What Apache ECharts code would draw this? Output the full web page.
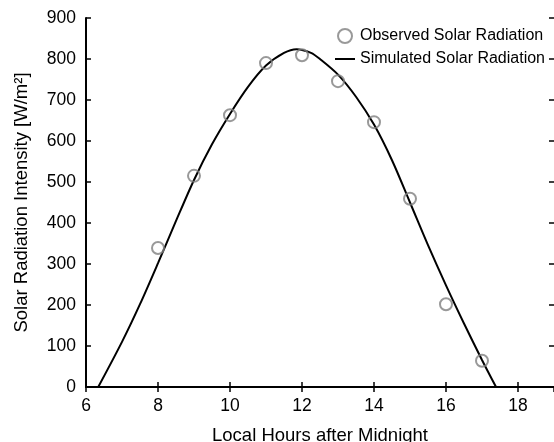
<!DOCTYPE html>
<html>
<head>
<meta charset="utf-8">
<script src="https://cdn.jsdelivr.net/npm/echarts@6/dist/echarts.min.js"></script>
<style>
  html, body { margin: 0; padding: 0; background: #fff; }
  #solarChart { width: 554px; height: 442px; }
</style>
</head>
<body>
<div id="solarChart"></div>
<script>
// observed values, one per hour
let obsHours = [8, 9, 10, 11, 12, 13, 14, 15, 16, 17]
let observed = [339, 515, 663, 790, 809, 746, 646, 459, 202, 64]

// simulated curve
let simHours = [6.34, 7, 7.5, 8, 8.5, 9, 9.5, 10, 10.5, 11, 11.5, 11.85, 12.25, 12.5, 13, 13.5, 14, 14.5, 15, 15.5, 16, 16.5, 17, 17.39]
let simulated = [0, 110, 202, 302, 405, 505, 592, 666, 732, 784, 815, 824, 815, 800, 762, 708, 640, 553, 450, 346, 248, 155, 66, 0]

let xTicks = [6, 8, 10, 12, 14, 16, 18]

let font = 'Liberation Sans, Arial, sans-serif'

let obsData = obsHours.map((h, i) => [h, observed[i]])
let simData = simHours.map((h, i) => [h, simulated[i]])

let myChart = echarts.init(document.getElementById('solarChart'))

let frameAxis = {
    axisLine: { show: true, lineStyle: { color: '#000', width: 2 } },
    axisTick: { show: true, inside: true, length: 5, lineStyle: { color: '#000', width: 1.5 } },
    splitLine: { show: false }
}

myChart.setOption({
    animation: false,
    // keep the plot box fixed, names may sit near the edge
    grid: { left: 86, right: 0, top: 18, bottom: 55, outerBoundsMode: 'none' },
    legend: {
        orient: 'vertical',
        right: 4,
        top: 23,
        itemWidth: 20,
        itemHeight: 14,
        itemGap: 7,
        textStyle: { fontFamily: font, fontSize: 16, color: '#000' },
        data: [
            'Observed Solar Radiation',
            // plain line, no marker in the key
            { name: 'Simulated Solar Radiation', icon: 'path://M0,0h20v2h-20z' }
        ]
    },
    xAxis: [
        Object.assign({
            type: 'value',
            min: 6,
            max: 19,
            interval: 2,
            name: 'Local Hours after Midnight',
            nameLocation: 'middle',
            nameGap: 39,
            nameTextStyle: { fontFamily: font, fontSize: 18.5, color: '#000' },
            axisLabel: {
                fontFamily: font, fontSize: 17.5, color: '#000', margin: 10,
                showMaxLabel: false,
                formatter: v => xTicks.indexOf(v) >= 0 ? String(v) : ''
            }
        }, frameAxis),
        Object.assign({
            type: 'value', position: 'top', min: 6, max: 19, interval: 2,
            axisLabel: { show: false }
        }, frameAxis)
    ],
    yAxis: [
        Object.assign({
            type: 'value',
            min: 0,
            max: 900,
            interval: 100,
            name: 'Solar Radiation Intensity [W/m²]',
            nameLocation: 'middle',
            nameGap: 55,
            nameTextStyle: { fontFamily: font, fontSize: 18.5, color: '#000' },
            axisLabel: { fontFamily: font, fontSize: 17.5, color: '#000', margin: 10 }
        }, frameAxis),
        Object.assign({}, frameAxis, {
            type: 'value', position: 'right', min: 0, max: 900, interval: 100,
            axisLine: { show: false },
            axisLabel: { show: false }
        })
    ],
    series: [
        {
            name: 'Simulated Solar Radiation',
            type: 'line',
            data: simData,
            smooth: 0.3,
            symbol: 'none',
            lineStyle: { color: '#000', width: 2 },
            itemStyle: { color: '#000' },
            z: 2
        },
        {
            name: 'Observed Solar Radiation',
            type: 'scatter',
            data: obsData,
            symbol: 'circle',
            symbolSize: 12,
            itemStyle: { color: 'rgba(0,0,0,0)', borderColor: '#808080', borderWidth: 2 },
            z: 3
        }
    ]
})
</script>
</body>
</html>
